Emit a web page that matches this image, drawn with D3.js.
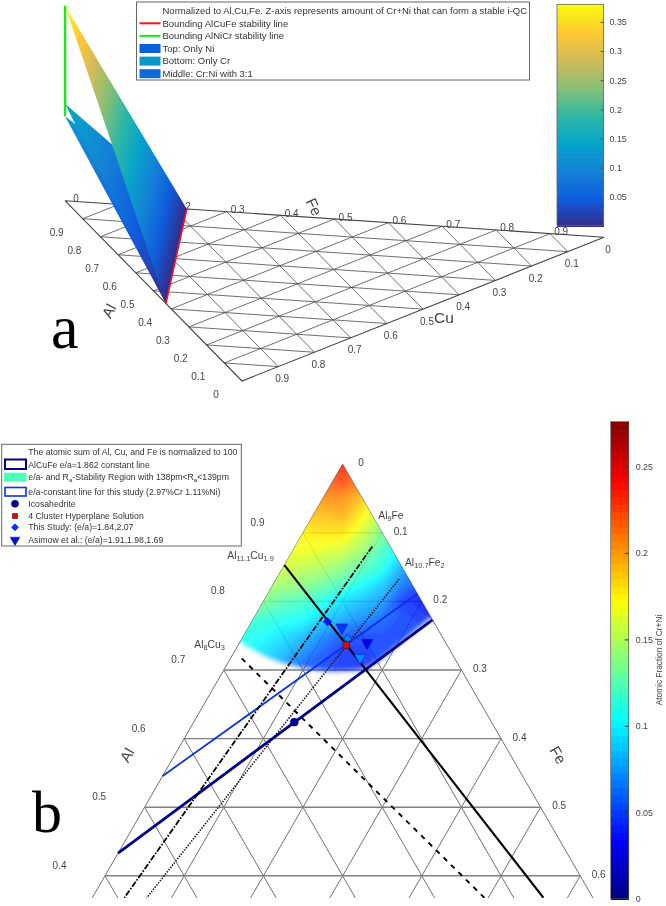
<!DOCTYPE html>
<html>
<head>
<meta charset="utf-8">
<script src="https://cdn.jsdelivr.net/npm/d3@7"></script>
<style>
  html, body { margin: 0; padding: 0; background: #fff; }
  svg { display: block; filter: blur(0.5px); }
  text { font-family: "Liberation Sans", Arial, sans-serif; fill: #444; }
</style>
</head>
<body>
<svg id="chart" width="666" height="906"></svg>
<script>
/* 数据：a 面板（三元底面 + 三张曲面） */
var A_TICKS = [0, 0.1, 0.2, 0.3, 0.4, 0.5, 0.6, 0.7, 0.8, 0.9];
var A_CBAR_TICKS = [0.05, 0.1, 0.15, 0.2, 0.25, 0.3, 0.35];
var A_BOUND_START = { al: 0.774, cu: 0, fe: 0.226 };
var A_BOUND_END = { al: 0.43, cu: 0.57, fe: 0 };
var A_SHEET_NAMES = ["Bottom", "Middle", "Top"];
var A_SHEET_PEAK = [0.125, 0.15, 0.38];
var A_LEGEND_TEXT = [
  "Normalized to Al,Cu,Fe. Z-axis represents amount of Cr+Ni that can form a stable i-QC",
  "Bounding AlCuFe stability line",
  "Bounding AlNiCr stability line",
  "Top: Only Ni",
  "Bottom: Only Cr",
  "Middle: Cr:Ni with 3:1"
];
var A_LEGEND_COLOR = [null, "#ff1020", "#10f010", "#0a5fdc", "#0a98c8", "#0a6adc"];

/* 数据：b 面板 */
var B_AL_TICKS = [0.9, 0.8, 0.7, 0.6, 0.5, 0.4];
var B_FE_TICKS = [0, 0.1, 0.2, 0.3, 0.4, 0.5, 0.6];
var B_GRID = [0.1, 0.2, 0.3, 0.4, 0.5, 0.6, 0.7, 0.8, 0.9];
var B_CBAR_TICKS = [0, 0.05, 0.1, 0.15, 0.2, 0.25];
var HEAT_LEVELS = [0, 0.025, 0.05, 0.075, 0.1, 0.125, 0.15, 0.175, 0.2, 0.225, 0.25, 0.275, 0.3]; // 1-Al
var HEAT_OFFSETS = [-0.3, -0.25, -0.2, -0.15, -0.1, -0.05, 0, 0.05, 0.1, 0.15, 0.2, 0.25, 0.3];   // Fe-Cu
var HEAT_VALUES = [
  .21, .21, .21, .21, .22, .225, .235, .22, .20, .17, .14, .12, .10,
  .21, .21, .21, .21, .215, .22, .225, .21, .19, .16, .13, .11, .09,
  .20, .20, .20, .20, .205, .205, .205, .19, .165, .14, .12, .10, .08,
  .19, .19, .19, .19, .19, .19, .195, .175, .15, .12, .10, .08, .06,
  .175, .175, .175, .175, .175, .18, .18, .16, .135, .11, .09, .07, .05,
  .17, .17, .17, .17, .17, .165, .16, .145, .12, .10, .08, .06, .05,
  .16, .16, .16, .16, .155, .15, .14, .125, .11, .08, .06, .05, .04,
  .15, .15, .15, .145, .14, .13, .12, .105, .09, .065, .05, .04, .04,
  .14, .14, .135, .125, .12, .11, .095, .085, .075, .045, .04, .035, .03,
  .125, .12, .115, .11, .105, .09, .08, .07, .06, .05, .045, .04, .04,
  .115, .11, .105, .095, .085, .07, .055, .05, .05, .05, .05, .05, .05,
  .105, .10, .095, .085, .07, .055, .045, .045, .05, .05, .05, .05, .05,
  .10, .095, .085, .07, .055, .05, .045, .045, .05, .05, .05, .05, .05
];
// 稳定区下边界 [Cu, Fe]
var HEAT_EDGE = [[.2587, 0], [.2346, .047], [.1997, .0964], [.1604, .1412], [.1302, .1698], [.104, .1858], [.0548, .204], [.0018, .2225]];

// 线 [Cu0, Fe0, Cu1, Fe1]
var LINE_NAVY = [.567, 0, 0, .227];
var LINE_BLUE = [.4545, 0, 0, .189];
var LINE_SOLID = [.147, 0, .0625, .5695];
var LINE_DASHDOT = [.0225, .0975, .5915, .0405];
var LINE_DOTTED = [.0127, .155, .5634, .0687];
var LINE_DASHED = [.2689, .0141, .137, .495];

// 点 [Cu, Fe, 颜色值]
var PT_ICOSA = [.249, .127];
var PT_HYPER = [.1272, .1365];
var PT_STUDY = [[.134, .0955, .04], [.1205, .1334, .07]];
var PT_ASIMOW = [[.120, .118, .05], [.0993, .161, .03], [.119, .163, .072]];

var B_LEGEND_Y = [452, 464.7, 477, 492, 503.7, 516, 527.3, 540];

/* 色图 */
var PARULA = ["#352A87", "#0F5CDD", "#1481D6", "#06A4CA", "#2EB7A4", "#87BF77", "#D1BB59", "#FEC832", "#F9FB0E"];
var JET = ["#000080", "#0000ff", "#00ffff", "#ffff00", "#ff0000", "#800000"];
var JET_POS = [0, 0.125, 0.375, 0.625, 0.875, 1];
var A_MAX = 0.38, B_MAX = 0.276;

var parulaScale = d3.scaleLinear()
  .domain(PARULA.map(function(c, i) { return A_MAX * i / (PARULA.length - 1); }))
  .range(PARULA).clamp(true);
var jetScale = d3.scaleLinear()
  .domain(JET_POS.map(function(p) { return p * B_MAX; }))
  .range(JET).clamp(true);

var svg = d3.select("#chart");
var defs = svg.append("defs");

function fmt(v) { return String(v); }

/* ===== 面板 a ===== */
var P_AL = { x: 65, y: 200.7 }, P_FE = { x: 604, y: 237.3 }, P_CU = { x: 242, y: 381 };
var feX = d3.scaleLinear().domain([0, 1]).range([0, P_FE.x - P_AL.x]);
var feY = d3.scaleLinear().domain([0, 1]).range([0, P_FE.y - P_AL.y]);
var cuX = d3.scaleLinear().domain([0, 1]).range([0, P_CU.x - P_AL.x]);
var cuY = d3.scaleLinear().domain([0, 1]).range([0, P_CU.y - P_AL.y]);
var zPx = d3.scalePow().exponent(0.752).domain([0, A_MAX]).range([0, 195]);

function aXY(cu, fe, z) {
  return [P_AL.x + feX(fe) + cuX(cu), P_AL.y + feY(fe) + cuY(cu) - (z ? zPx(z) : 0)];
}

var gA = svg.append("g");
var gridA = gA.append("g").attr("fill", "none").attr("stroke", "#4a4a4a").attr("stroke-width", 0.8);
A_TICKS.slice(1).forEach(function(t) {
  // 等 Al、等 Fe、等 Cu 三组
  [[aXY(t, 0), aXY(0, t)], [aXY(0, t), aXY(1 - t, t)], [aXY(t, 0), aXY(t, 1 - t)]].forEach(function(p) {
    gridA.append("path").attr("d", d3.line()(p));
  });
});
gA.append("path").attr("d", d3.line()([aXY(0, 0), aXY(0, 1), aXY(1, 0), aXY(0, 0)]))
  .attr("fill", "none").attr("stroke", "#444").attr("stroke-width", 1.1);

function tickText(g, x, y, s) {
  g.append("text").attr("x", x).attr("y", y + 3.5).attr("text-anchor", "middle")
    .attr("font-size", 10).text(s);
}
A_TICKS.forEach(function(t) {
  var f = aXY(0, t);
  tickText(gA, f[0] + 11, f[1] - 2, fmt(t));
  var a = aXY(1 - t, 0);
  tickText(gA, a[0] - 26, a[1] + 13.5, fmt(t));
  var c = aXY(t, 1 - t);
  tickText(gA, c[0] + 4, c[1] + 12, fmt(t));
});

// 三张曲面：从铝角顶点到稳定线，颜色随高度
var r0 = aXY(A_BOUND_START.cu, A_BOUND_START.fe);
var r1 = aXY(A_BOUND_END.cu, A_BOUND_END.fe);
A_SHEET_PEAK.forEach(function(z, i) {
  var v = aXY(0, 0, z);
  var dx = r1[0] - r0[0], dy = r1[1] - r0[1];
  var u = ((v[0] - r0[0]) * dx + (v[1] - r0[1]) * dy) / (dx * dx + dy * dy);
  var foot = [r0[0] + u * dx, r0[1] + u * dy];
  var grad = defs.append("linearGradient").attr("id", "sheet" + i)
    .attr("gradientUnits", "userSpaceOnUse")
    .attr("x1", foot[0]).attr("y1", foot[1]).attr("x2", v[0]).attr("y2", v[1]);
  d3.range(0, 1.001, 0.0625).forEach(function(o) {
    grad.append("stop").attr("offset", o).attr("stop-color", parulaScale(o * z));
  });
  gA.append("path").attr("d", d3.line()([v, r0, r1]) + "Z").attr("fill", "url(#sheet" + i + ")");
});

gA.append("path").attr("d", d3.line()([r0, r1])).attr("stroke", "#ff1020").attr("stroke-width", 1.6).attr("fill", "none");
gA.append("path").attr("d", d3.line()([aXY(0, 0, A_SHEET_PEAK[0]), aXY(0, 0, A_SHEET_PEAK[2])]))
  .attr("stroke", "#10f010").attr("stroke-width", 2.4).attr("fill", "none");

gA.append("text").attr("transform", "translate(314,207) rotate(65)").attr("text-anchor", "middle").attr("dy", "0.35em").attr("font-size", 15).text("Fe");
gA.append("text").attr("transform", "translate(109,311) rotate(-62)").attr("text-anchor", "middle").attr("dy", "0.35em").attr("font-size", 15).text("Al");
gA.append("text").attr("x", 444).attr("y", 318).attr("text-anchor", "middle").attr("dy", "0.35em").attr("font-size", 15.5).text("Cu");
gA.append("text").attr("x", 51).attr("y", 348).style("font-family", '"Liberation Serif", serif').style("fill", "#000").attr("font-size", 62).text("a");

// 图例 a
var legA = gA.append("g");
legA.append("rect").attr("x", 136.5).attr("y", 2).attr("width", 393).attr("height", 78)
  .attr("fill", "#fff").attr("stroke", "#666").attr("stroke-width", 1);
var legAY = d3.scalePoint().domain(d3.range(6)).range([10.7, 73.7]);
A_LEGEND_TEXT.forEach(function(s, i) {
  legA.append("text").attr("x", 162.5).attr("y", legAY(i) + 3.3).attr("font-size", 9.5).style("fill", "#333").text(s);
  if (i === 1 || i === 2) {
    legA.append("rect").attr("x", 139.5).attr("y", legAY(i) - 1).attr("width", 21).attr("height", 2).attr("fill", A_LEGEND_COLOR[i]);
  } else if (i > 2) {
    legA.append("rect").attr("x", 139.5).attr("y", legAY(i) - 4.5).attr("width", 21).attr("height", 9).attr("fill", A_LEGEND_COLOR[i]);
  }
});

// 色标 a
var cbarAY = d3.scaleLinear().domain([0, 0.38]).range([226.2, 4.3]);
var gCA = svg.append("g");
d3.range(64).forEach(function(i) {
  var v0 = 0.38 * i / 64, v1 = 0.38 * (i + 1) / 64;
  gCA.append("rect").attr("x", 557).attr("width", 46.5).attr("y", cbarAY(v1)).attr("height", cbarAY(v0) - cbarAY(v1) + 1)
    .attr("fill", parulaScale((v0 + v1) / 2)).attr("shape-rendering", "crispEdges");
});
gCA.append("rect").attr("x", 557).attr("width", 46.5).attr("y", 4.3).attr("height", 221).attr("fill", "none").attr("stroke", "#666").attr("stroke-width", 0.8);
var axA = gCA.append("g").attr("transform", "translate(603.5,0)")
  .call(d3.axisRight(cbarAY).tickValues(A_CBAR_TICKS).tickSize(-3).tickPadding(6).tickFormat(fmt));
axA.select(".domain").remove();
axA.selectAll("text").attr("font-size", 8.9).attr("font-family", null);
axA.selectAll("line").attr("stroke", "#555");

/* ===== 面板 b ===== */
var apexX = 342.6;
var offX = d3.scaleLinear().domain([-1, 1]).range([apexX - 396, apexX + 396]);
var lvlY = d3.scaleLinear().domain([0, 1]).range([464.2, 1150.2]);
function bXY(cu, fe) { return [offX(fe - cu), lvlY(cu + fe)]; }

defs.append("clipPath").attr("id", "bClip").append("rect").attr("x", 0).attr("y", 0).attr("width", 666).attr("height", 898);

var gB = svg.append("g");
var gridB = gB.append("g").attr("clip-path", "url(#bClip)").attr("fill", "none");
// 斜线（含两条边）
[0].concat(B_GRID).forEach(function(t) {
  gridB.append("path").attr("d", d3.line()([bXY(0, t), bXY(1 - t, t)])).attr("stroke", "#707070").attr("stroke-width", 1);
  gridB.append("path").attr("d", d3.line()([bXY(t, 0), bXY(t, 1 - t)])).attr("stroke", "#707070").attr("stroke-width", 1);
});
B_GRID.forEach(function(t) {
  gridB.append("path").attr("d", d3.line()([bXY(t, 0), bXY(0, t)])).attr("stroke", "#808080").attr("stroke-width", 1.4);
});

// 热图：手读矩阵 + d3.contours
var triClip = defs.append("clipPath").attr("id", "triClip");
triClip.append("path").attr("d", d3.line()([bXY(0, 0), bXY(1, 0), bXY(0, 1)]) + "Z");
var edgePts = HEAT_EDGE.map(function(p) { return bXY(p[0], p[1]); });
var maskPath = d3.line().curve(d3.curveMonotoneX)(edgePts);
var fb = defs.append("filter").attr("id", "feather").attr("x", "-20%").attr("y", "-20%").attr("width", "140%").attr("height", "140%");
fb.append("feGaussianBlur").attr("stdDeviation", 2.5);
var fs = defs.append("filter").attr("id", "soft").attr("x", "-10%").attr("y", "-10%").attr("width", "120%").attr("height", "120%");
fs.append("feGaussianBlur").attr("stdDeviation", 1.2);
var mask = defs.append("mask").attr("id", "heatMask").attr("maskUnits", "userSpaceOnUse")
  .attr("x", 0).attr("y", 400).attr("width", 666).attr("height", 400);
mask.append("path").attr("d", "M150,400L150,600L" + edgePts[0] + maskPath.slice(maskPath.indexOf("C")) + "L520,620L520,400Z")
  .attr("fill", "#fff").attr("filter", "url(#feather)");

var nCols = HEAT_OFFSETS.length, nRows = HEAT_LEVELS.length;
var colX = d3.scaleLinear().domain([0, nCols - 1]).range([offX(HEAT_OFFSETS[0]), offX(HEAT_OFFSETS[nCols - 1])]);
var rowY = d3.scaleLinear().domain([0, nRows - 1]).range([lvlY(HEAT_LEVELS[0]), lvlY(HEAT_LEVELS[nRows - 1])]);
var contourProj = d3.geoTransform({
  point: function(x, y) { this.stream.point(colX(x - 0.5), rowY(y - 0.5)); }
});
var step = B_MAX / 64;
var contours = d3.contours().size([nCols, nRows]).smooth(true)
  .thresholds(d3.range(0, B_MAX, step))(HEAT_VALUES);
var heat = gB.append("g").attr("clip-path", "url(#triClip)").append("g").attr("mask", "url(#heatMask)")
  .attr("opacity", 0.85).append("g").attr("filter", "url(#soft)");
heat.selectAll("path").data(contours).enter().append("path")
  .attr("d", d3.geoPath(contourProj))
  .attr("fill", function(d) { return jetScale(d.value + step / 2); });

// 线
var gLines = gB.append("g").attr("clip-path", "url(#bClip)").attr("fill", "none");
function ternLine(l, color, w, dash) {
  gLines.append("path").attr("d", d3.line()([bXY(l[0], l[1]), bXY(l[2], l[3])]))
    .attr("stroke", color).attr("stroke-width", w).attr("stroke-dasharray", dash || null);
}
ternLine(LINE_NAVY, "#00008f", 2.8);
ternLine(LINE_BLUE, "#0a30f0", 1.8);
ternLine(LINE_SOLID, "#000", 2.1);
ternLine(LINE_DASHDOT, "#000", 1.8, "6,1.6,1.6,1.6");
ternLine(LINE_DOTTED, "#111", 1.6, "1.4,1.4");
ternLine(LINE_DASHED, "#000", 1.9, "5,5.5");

// 点
var sym = d3.symbol();
function marker(g, x, y, type, size, fill, stroke) {
  var rot = type === "tri" ? " rotate(180)" : type === "dia" ? " rotate(45)" : "";
  var shape = type === "tri" ? d3.symbolTriangle : (type === "dia" || type === "sq") ? d3.symbolSquare : d3.symbolCircle;
  g.append("path").attr("transform", "translate(" + x + "," + y + ")" + rot)
    .attr("d", sym.type(shape).size(size)())
    .attr("fill", fill).attr("stroke", stroke || "#0010c0").attr("stroke-width", 0.6);
}
var pI = bXY(PT_ICOSA[0], PT_ICOSA[1]);
marker(gB, pI[0], pI[1], "circle", 50, "#00008f", "#00008f");
PT_ASIMOW.forEach(function(p) { var q = bXY(p[0], p[1]); marker(gB, q[0], q[1], "tri", 60, jetScale(p[2])); });
PT_STUDY.forEach(function(p) { var q = bXY(p[0], p[1]); marker(gB, q[0], q[1], "dia", 34, jetScale(p[2])); });
var pH = bXY(PT_HYPER[0], PT_HYPER[1]);
marker(gB, pH[0], pH[1], "sq", 45, "#c81010", "#600");

// 刻度
B_AL_TICKS.forEach(function(t) {
  var p = bXY(1 - t, 0);
  tickText(gB, p[0] - 45.5, p[1] - 10.5, fmt(t));
});
B_FE_TICKS.forEach(function(t) {
  var p = bXY(0, t);
  tickText(gB, p[0] + 18.5, p[1] - 1.5, fmt(t));
});
gB.append("text").attr("transform", "translate(127,755) rotate(-60)").attr("text-anchor", "middle").attr("dy", "0.35em").attr("font-size", 15).text("Al");
gB.append("text").attr("transform", "translate(558,755) rotate(60)").attr("text-anchor", "middle").attr("dy", "0.35em").attr("font-size", 15).text("Fe");
gB.append("text").attr("x", 32).attr("y", 832).style("font-family", '"Liberation Serif", serif').style("fill", "#000").attr("font-size", 60).text("b");

// 下标标注
function richText(g, x, y, size, parts, fill) {
  var t = g.append("text").attr("x", x).attr("y", y).attr("font-size", size);
  if (fill) t.style("fill", fill);
  parts.forEach(function(p) {
    var sub = p.charAt(0) === "_";
    var ts = t.append("tspan").text(sub ? p.slice(1) : p);
    if (sub) ts.attr("baseline-shift", "-35%").attr("font-size", size * 0.72);
  });
  return t;
}
richText(gB, 227.3, 559, 10.3, ["Al", "_11.1", "Cu", "_1.9"]);
richText(gB, 378.3, 518.5, 10.3, ["Al", "_9", "Fe"]);
richText(gB, 405, 566, 10.3, ["Al", "_10.7", "Fe", "_2"]);
richText(gB, 194.3, 648, 10.3, ["Al", "_8", "Cu", "_3"]);

// 图例 b
var legB = gB.append("g");
legB.append("rect").attr("x", 1.7).attr("y", 444.3).attr("width", 239.6).attr("height", 101.7)
  .attr("fill", "#fff").attr("stroke", "#666").attr("stroke-width", 1);
var legT = [
  ["The atomic sum of Al, Cu, and Fe is normalized to 100"],
  ["AlCuFe e/a=1.862 constant line"],
  ["e/a- and R", "_a", "-Stability Region with 138pm<R", "_a", "<139pm"],
  ["e/a-constant line for this study (2.97%Cr 1.11%Ni)"],
  ["Icosahedrite"],
  ["4 Cluster Hyperplane Solution"],
  ["This Study: (e/a)=1.84,2.07"],
  ["Asimow et al.: (e/a)=1.91,1.98,1.69"]
];
legT.forEach(function(parts, i) {
  richText(legB, 28.3, B_LEGEND_Y[i] + 3, 8.7, parts, "#333");
});
legB.append("rect").attr("x", 5).attr("y", 459.5).attr("width", 21).attr("height", 9.5).attr("fill", "#fff").attr("stroke", "#00008f").attr("stroke-width", 2);
legB.append("rect").attr("x", 4).attr("y", 472.7).attr("width", 22.5).attr("height", 9).attr("fill", "#4dffb8");
legB.append("rect").attr("x", 5).attr("y", 487.5).attr("width", 21).attr("height", 8.5).attr("fill", "#fff").attr("stroke", "#0a30f0").attr("stroke-width", 1.6);
marker(legB, 15, B_LEGEND_Y[4], "circle", 40, "#00008f", "#00008f");
marker(legB, 15, B_LEGEND_Y[5], "sq", 26, "#c81010", "#600");
marker(legB, 15, B_LEGEND_Y[6], "dia", 24, "#0a30f0");
marker(legB, 15, B_LEGEND_Y[7], "tri", 40, "#0010d0");

// 色标 b（64 级 jet）
var cbarBY = d3.scaleLinear().domain([0, 0.25]).range([898.7, 466.5]);
var gCB = svg.append("g");
d3.range(64).forEach(function(i) {
  var v0 = B_MAX * i / 64, v1 = B_MAX * (i + 1) / 64;
  gCB.append("rect").attr("x", 610.7).attr("width", 18).attr("y", cbarBY(v1)).attr("height", cbarBY(v0) - cbarBY(v1) + 1)
    .attr("fill", jetScale((v0 + v1) / 2)).attr("shape-rendering", "crispEdges");
});
gCB.append("rect").attr("x", 610.7).attr("width", 18).attr("y", cbarBY(B_MAX)).attr("height", cbarBY(0) - cbarBY(B_MAX))
  .attr("fill", "none").attr("stroke", "#555").attr("stroke-width", 0.7);
var axB = gCB.append("g").attr("transform", "translate(628.7,0)")
  .call(d3.axisRight(cbarBY).tickValues(B_CBAR_TICKS).tickSize(-4).tickPadding(7).tickFormat(fmt));
axB.select(".domain").remove();
axB.selectAll("text").attr("font-size", 8.9).attr("font-family", null);
axB.selectAll("line").attr("stroke", "#333");
gCB.append("text").attr("transform", "translate(659,660) rotate(-90)").attr("text-anchor", "middle").attr("dy", "0.35em")
  .attr("font-size", 8.3).text("Atomic Fraction of Cr+Ni");
</script>
</body>
</html>
